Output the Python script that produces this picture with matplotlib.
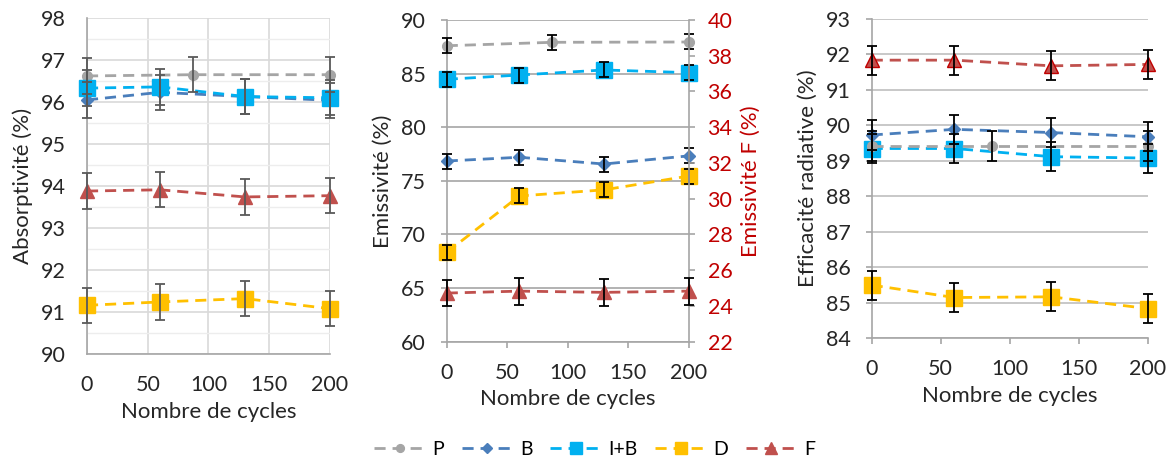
import matplotlib
matplotlib.use('Agg')
import matplotlib.pyplot as plt
from matplotlib.lines import Line2D

plt.rcParams['font.family'] = ['Lato', 'DejaVu Sans']

# ================== données ==================

x_p = [0, 87, 200]
x_s = [0, 60, 130, 200]

# Absorptivité (%)
abs_P = [96.62, 96.65, 96.65]
abs_B = [96.05, 96.23, 96.13, 96.04]
abs_IB = [96.33, 96.36, 96.13, 96.10]
abs_D = [91.16, 91.24, 91.32, 91.08]
abs_F = [93.88, 93.91, 93.74, 93.77]
abs_err = 0.42

# Emissivité (%) ; F sur l'axe de droite
emi_P = [87.6, 87.92, 87.95]
emi_B = [76.85, 77.2, 76.57, 77.33]
emi_IB = [84.47, 84.87, 85.34, 85.09]
emi_D = [68.33, 73.59, 74.16, 75.45]
emi_F = [24.72, 24.83, 24.76, 24.83]
emi_err = 0.7
emi_F_err = 0.75

# Efficacité radiative (%)
eff_P = [89.42, 89.42, 89.42]
eff_B = [89.73, 89.89, 89.80, 89.68]
eff_IB = [89.35, 89.35, 89.12, 89.08]
eff_D = [85.50, 85.15, 85.17, 84.84]
eff_F = [91.84, 91.84, 91.68, 91.72]
eff_err = 0.41

# ================== styles ==================

C_P = '#A5A5A5'
C_B = '#4A7EBB'
C_IB = '#00B0F0'
C_D = '#FFC000'
C_F = '#C0504D'
DASH = (4, 2.5)
FS_TICK = 15.5
FS_LAB = 16

styles = {
    'P': dict(color=C_P, marker='o', ms=7),
    'B': dict(color=C_B, marker='D', ms=6.5),
    'I+B': dict(color=C_IB, marker='s', ms=11),
    'D': dict(color=C_D, marker='s', ms=11),
    'F': dict(color=C_F, marker='^', ms=10.5),
}


def draw(ax, x, y, err, key, ecolor, mec=None):
    # courbe + marqueurs, puis barres d'erreur par-dessus (comme Excel)
    st = styles[key]
    ax.plot(x, y, color=st['color'], marker=st['marker'], ms=st['ms'],
            mfc=st['color'], mec=mec or st['color'], lw=2, dashes=DASH,
            clip_on=False, zorder=3)
    ax.errorbar(x, y, yerr=err, fmt='none', ecolor=ecolor, elinewidth=1.3,
                capsize=3.5, capthick=1.3, clip_on=False, zorder=4)


def style_axis(ax, ticklen):
    for s in ['top', 'right']:
        ax.spines[s].set_visible(False)
    for s in ['left', 'bottom']:
        ax.spines[s].set_color('#A6A6A6')
        ax.spines[s].set_linewidth(1.2)
    pad = 15 - ticklen
    ax.tick_params(labelsize=FS_TICK, colors='#A6A6A6', labelcolor='#262626',
                   length=ticklen, width=1.2, pad=pad)
    ax.set_xlim(0, 200)
    ax.set_xticks([0, 50, 100, 150, 200])
    ax.set_axisbelow(True)
    ax.set_xlabel('Nombre de cycles', fontsize=FS_LAB, color='#262626', labelpad=5)


fig = plt.figure(figsize=(11.71, 4.61), dpi=100)

# ---------- panneau 1 ----------
ax1 = fig.add_axes([0.0743, 0.232, 0.2075, 0.729])
style_axis(ax1, 0)
ax1.set_ylim(90, 98)
ax1.set_yticks(range(90, 99))
ax1.set_yticks([90.5 + i for i in range(8)], minor=True)
ax1.tick_params(which='minor', length=0)
ax1.grid(True, which='major', color='#D9D9D9', lw=1.2)
ax1.grid(True, which='minor', axis='y', color='#EDEDED', lw=1.0)
ax1.set_ylabel('Absorptivité (%)', fontsize=FS_LAB, color='#262626', labelpad=6)
draw(ax1, x_p, abs_P, abs_err, 'P', '#595959')
draw(ax1, x_s, abs_B, abs_err, 'B', '#595959')
draw(ax1, x_s, abs_IB, abs_err, 'I+B', '#595959')
draw(ax1, x_s, abs_D, abs_err, 'D', '#595959')
draw(ax1, x_s, abs_F, abs_err, 'F', '#595959')

# ---------- panneau 2 ----------
ax2 = fig.add_axes([0.3815, 0.2588, 0.2067, 0.6978])
style_axis(ax2, 4.5)
ax2.set_ylim(60, 90)
ax2.set_yticks(range(60, 91, 5))
ax2.grid(True, axis='y', color='#A6A6A6', lw=1.2)
ax2.set_ylabel('Emissivité (%)', fontsize=FS_LAB, color='#262626', labelpad=6)
ax2r = ax2.twinx()
ax2r.set_ylim(22, 40)
ax2r.set_yticks(range(22, 41, 2))
for s in ['top', 'left', 'bottom']:
    ax2r.spines[s].set_visible(False)
ax2r.spines['right'].set_color('#A6A6A6')
ax2r.spines['right'].set_linewidth(1.2)
ax2r.tick_params(labelsize=FS_TICK, colors='#A6A6A6', labelcolor='#C00000',
                 length=4.5, width=1.2, pad=9)
ax2r.set_ylabel('Emissivité F (%)', fontsize=FS_LAB, color='#C00000', labelpad=6)
draw(ax2, x_p, emi_P, emi_err, 'P', 'black')
draw(ax2, x_s, emi_B, emi_err, 'B', 'black')
draw(ax2, x_s, emi_IB, emi_err, 'I+B', 'black')
draw(ax2, x_s, emi_D, emi_err, 'D', 'black')
draw(ax2r, x_s, emi_F, emi_F_err, 'F', 'black')
ax2r.set_xlim(0, 200)

# ---------- panneau 3 ----------
ax3 = fig.add_axes([0.7444, 0.2661, 0.2357, 0.6927])
style_axis(ax3, 4.5)
ax3.set_ylim(84, 93)
ax3.set_yticks(range(84, 94))
ax3.grid(True, axis='y', color='#BFBFBF', lw=1.2)
ax3.set_ylabel('Efficacité radiative (%)', fontsize=FS_LAB, color='#262626', labelpad=6)
draw(ax3, x_s, eff_D, eff_err, 'D', 'black')
draw(ax3, x_s, eff_IB, eff_err, 'I+B', 'black')
draw(ax3, x_p, eff_P, eff_err, 'P', 'black')
draw(ax3, x_s, eff_B, eff_err, 'B', 'black')
draw(ax3, x_s, eff_F, eff_err, 'F', 'black', mec='#C00000')

# ---------- légende ----------
handles = []
labels = ['P', 'B', 'I+B', 'D', 'F']
for k in labels:
    st = styles[k]
    handles.append(Line2D([], [], color=st['color'], marker=st['marker'], ms=st['ms'] * 0.8,
                          lw=2, dashes=DASH))
fig.legend(handles, labels, loc='center', bbox_to_anchor=(0.508, 0.026), ncol=5,
           frameon=False, fontsize=14, handlelength=2.6, columnspacing=0.9, handletextpad=0.4)

fig.savefig('out.png', dpi=100)
